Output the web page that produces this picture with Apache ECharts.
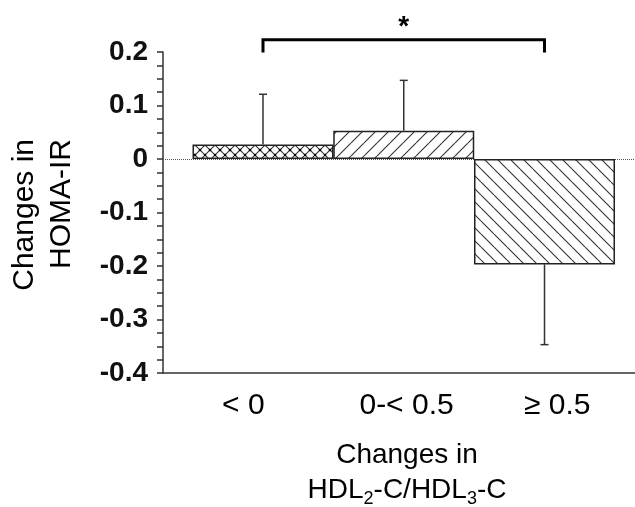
<!DOCTYPE html>
<html>
<head>
<meta charset="utf-8">
<script src="https://cdn.jsdelivr.net/npm/echarts@6/dist/echarts.min.js"></script>
<style>
  html, body { margin: 0; padding: 0; background: #fff; }
  #chart { width: 635px; height: 507px; }
</style>
</head>
<body>
<div id="chart"></div>
<script>
// Groups of change in HDL2-C/HDL3-C ratio
const categories = ['< 0', '0-< 0.5', '\u2265 0.5'];
// Mean change in HOMA-IR per group, with its error (SEM)
const meanChange = [0.027, 0.053, -0.197];
const errChange = [0.094, 0.094, 0.150];
// Significant pair (group indices) and its marker
const sigPair = [0, 2];
const sigLabel = '*';

// Layout constants
const FONT = '"Liberation Sans", Arial, Helvetica, sans-serif';
const labelShift = [-0.14, 0.02, 0.09];   // nudges of the group labels, in group widths
const bracketTop = 0.223, bracketFoot = 0.199;

// Hatch fills
function hatch(kind) {
  const s = kind === 'cross' ? 10 : 13;
  const c = document.createElement('canvas');
  c.width = s; c.height = s;
  const g = c.getContext('2d');
  g.fillStyle = '#fff';
  g.fillRect(0, 0, s, s);
  g.strokeStyle = '#333';
  g.lineWidth = 1.1;
  g.beginPath();
  for (const k of [-s, 0, s]) {
    if (kind === 'fwd' || kind === 'cross') { g.moveTo(k, s); g.lineTo(k + s, 0); }
    if (kind === 'back' || kind === 'cross') { g.moveTo(k, 0); g.lineTo(k + s, s); }
  }
  g.stroke();
  if (kind === 'cross') {
    g.fillStyle = '#000';
    for (const [px, py] of [[0, 0], [s, 0], [0, s], [s, s], [s / 2, s / 2]]) {
      g.beginPath(); g.arc(px, py, 1.3, 0, Math.PI * 2); g.fill();
    }
  }
  return { image: c, repeat: 'repeat' };
}
const fills = [hatch('cross'), hatch('fwd'), hatch('back')];

const chart = echarts.init(document.getElementById('chart'), null, { renderer: 'canvas' });

const axisColor = '#333';

chart.setOption({
  animation: false,
  backgroundColor: '#fff',
  grid: { left: 163, right: 0, top: 52, bottom: 134, containLabel: false, outerBoundsMode: 'none' },
  xAxis: {
    type: 'value',
    min: -0.7105,
    max: 2.643,
    axisLine: { show: true, onZero: false, lineStyle: { color: axisColor, width: 1.5 } },
    axisTick: { show: false },
    splitLine: { show: false },
    axisLabel: {
      customValues: categories.map((c, i) => i + labelShift[i]),
      formatter: v => categories[Math.round(v)] || '',
      fontFamily: FONT, fontSize: 30, color: '#000', margin: 18
    },
    name: 'Changes in\nHDL{sub|2}-C/HDL{sub|3}-C',
    nameLocation: 'middle',
    nameGap: 65,
    nameTextStyle: {
      fontFamily: FONT, fontSize: 28, color: '#000', lineHeight: 35,
      padding: [0, 0, 0, 16],
      rich: {
        sub: { fontFamily: FONT, fontSize: 18, color: '#000', lineHeight: 18, verticalAlign: 'bottom' }
      }
    }
  },
  yAxis: {
    type: 'value',
    min: -0.4,
    max: 0.2,
    interval: 0.1,
    axisLine: { show: true, onZero: false, lineStyle: { color: axisColor, width: 1.5 } },
    axisTick: { show: true, length: 6, lineStyle: { color: axisColor, width: 1.5 } },
    minorTick: { show: true, splitNumber: 4, length: 6, lineStyle: { color: axisColor, width: 1.5 } },
    splitLine: { show: false },
    axisLabel: { fontFamily: FONT, fontWeight: 'bold', fontSize: 28, color: '#111', margin: 15 }
  },
  graphic: [{
    type: 'text',
    x: 43.5, y: 139,
    rotation: Math.PI / 2,
    style: {
      text: 'Changes in\nHOMA-IR',
      font: '30px ' + FONT,
      fill: '#000',
      align: 'right',
      verticalAlign: 'middle',
      lineHeight: 37
    }
  }],
  series: [
    {
      type: 'bar',
      barWidth: 141,
      z: 2,
      data: categories.map((c, i) => ({
        value: [i, meanChange[i]],
        itemStyle: { color: fills[i], borderColor: '#222', borderWidth: 1.5 }
      })),
      markLine: {
        silent: true,
        z: 1,
        symbol: 'none',
        label: { show: false },
        lineStyle: { type: 'dotted', color: '#555', width: 1 },
        data: [{ yAxis: 0 }]
      }
    },
    {
      // error whiskers pointing away from zero
      type: 'custom',
      z: 3,
      data: categories.map((c, i) => [i, meanChange[i], errChange[i]]),
      renderItem: (params, api) => {
        const x = api.value(0), m = api.value(1), e = api.value(2);
        const sign = m >= 0 ? 1 : -1;
        const p0 = api.coord([x, m]);
        const p1 = api.coord([x, m + sign * e]);
        const st = { stroke: '#333', lineWidth: 1.5 };
        return {
          type: 'group',
          children: [
            { type: 'line', shape: { x1: p0[0], y1: p0[1], x2: p1[0], y2: p1[1] }, style: st },
            { type: 'line', shape: { x1: p1[0] - 4, y1: p1[1], x2: p1[0] + 4, y2: p1[1] }, style: st }
          ]
        };
      }
    },
    {
      // significance bracket
      type: 'custom',
      z: 3,
      clip: false,
      data: [[sigPair[0], bracketTop, sigPair[1]]],
      renderItem: (params, api) => {
        const a = api.coord([api.value(0), api.value(1)]);
        const b = api.coord([api.value(2), api.value(1)]);
        const foot = api.coord([api.value(0), bracketFoot])[1];
        return {
          type: 'group',
          children: [
            {
              type: 'polyline',
              shape: { points: [[a[0], foot], [a[0], a[1]], [b[0], b[1]], [b[0], foot]] },
              style: { stroke: '#000', lineWidth: 3, fill: null }
            },
            {
              type: 'text',
              x: (a[0] + b[0]) / 2, y: a[1] - 12,
              style: {
                text: sigLabel, font: 'bold 28px ' + FONT, fill: '#000',
                align: 'center', verticalAlign: 'middle'
              }
            }
          ]
        };
      }
    }
  ]
});
</script>
</body>
</html>
